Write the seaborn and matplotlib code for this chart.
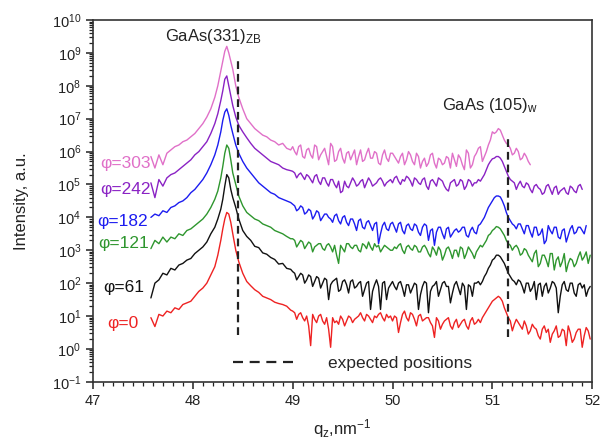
import numpy as np
import pandas as pd
import matplotlib
matplotlib.use("Agg")
import matplotlib.pyplot as plt
from matplotlib.lines import Line2D
from matplotlib.ticker import LogLocator, MultipleLocator, NullFormatter
import seaborn as sns

sns.set_style("ticks")
plt.rcParams["font.family"] = ["Liberation Sans", "DejaVu Sans"]
plt.rcParams["mathtext.fontset"] = "custom"
plt.rcParams["mathtext.rm"] = "Liberation Sans"
plt.rcParams["mathtext.it"] = "Liberation Sans:italic"
plt.rcParams["mathtext.bf"] = "Liberation Sans:bold"

# ---- scan positions q_z (nm^-1) ----
q_left = [47.58, 47.62, 47.66, 47.70, 47.74, 47.78, 47.82, 47.86, 47.90, 47.94,
          47.98, 48.02, 48.06, 48.10, 48.14, 48.18]
q_core = [48.22, 48.25, 48.28, 48.30, 48.32, 48.34, 48.36, 48.38, 48.40, 48.43,
          48.46, 48.50, 48.54]
q_tail = [48.58, 48.62, 48.66, 48.70, 48.74, 48.78, 48.82, 48.86, 48.90, 48.94, 48.98,
          49.02, 49.06, 49.10, 49.14, 49.18, 49.22, 49.26, 49.30, 49.34, 49.38,
          49.42, 49.46, 49.50, 49.54, 49.58, 49.62, 49.66, 49.70, 49.74, 49.78,
          49.82, 49.86, 49.90, 49.94, 49.98,
          50.02, 50.06, 50.10, 50.14, 50.18, 50.22, 50.26, 50.30, 50.34, 50.38,
          50.42, 50.46, 50.50, 50.54, 50.58, 50.62, 50.66, 50.70, 50.74, 50.78,
          50.82, 50.86, 50.90, 50.94, 50.98,
          51.02, 51.06, 51.10, 51.14, 51.18, 51.22, 51.26, 51.30, 51.34, 51.38,
          51.42, 51.46, 51.50, 51.54, 51.58, 51.62, 51.66, 51.70, 51.74, 51.78,
          51.82, 51.86, 51.90, 51.94, 51.98]
# interleaved positions in the background region
q_mid = [49.00, 49.04, 49.08, 49.12, 49.16, 49.20, 49.24, 49.28, 49.32, 49.36,
         49.40, 49.44, 49.48, 49.52, 49.56, 49.60, 49.64, 49.68, 49.72, 49.76,
         49.80, 49.84, 49.88, 49.92, 49.96,
         50.00, 50.04, 50.08, 50.12, 50.16, 50.20, 50.24, 50.28, 50.32, 50.36,
         50.40, 50.44, 50.48, 50.52, 50.56, 50.60, 50.64, 50.68, 50.72, 50.76,
         50.80, 50.84, 50.88, 50.92, 50.96,
         51.00, 51.04, 51.08, 51.12, 51.16, 51.20, 51.24, 51.28, 51.32, 51.36,
         51.40, 51.44, 51.48, 51.52, 51.56, 51.60, 51.64, 51.68, 51.72, 51.76,
         51.80, 51.84, 51.88, 51.92, 51.96]

# ---- log10(intensity) for each azimuth phi ----
logI_phi0 = [0.95, 0.68, 1.05, 1.0, 1.15, 1.1, 1.25, 1.2, 1.35, 1.4, 1.45, 1.6, 1.75, 1.85, 2.0, 2.25,
             2.5, 2.85, 3.3, 3.65, 3.95, 4.15, 4.1, 3.85, 3.5, 3.0, 2.65, 2.3, 2.05,
             1.92, 1.8, 1.72, 1.6, 1.55, 1.5, 1.42, 1.38, 1.35, 1.3, 1.18,
             1.1, 1.05, 0.95, 1.0, 0.1, 0.9, 1.0, 0.85, 0.95, 0.05, 0.8, 0.75, 0.9, 0.85, 0.95,
             0.9, 1.0, 0.95, 1.05, 0.9, 1.0, 1.05, 0.95, 1.05, 1.0,
             1.0, 0.5, 1.05, 0.95, 1.1, 0.9, 1.0, 0.85, 0.95, 0.8, 0.35, 0.85, 0.75, 0.9, 0.7,
             0.8, 0.65, 0.85, 0.7, 0.85, 0.75, 0.9, 0.95, 1.15, 1.35,
             1.5, 1.6, 1.45, 1.1, 0.85, 0.75, 0.8, 0.6, 0.7, 0.55, 0.65, 0.4, 0.6, 0.5, 0.2,
             0.55, 0.35, 0.6, 0.1, 0.5, 0.3, 0.6, 0.05, 0.65, 0.3]
logI_phi0_mid = [1.15, 0.9, 1.1, 0.85, 0.7, 1.05, 0.8, 1.05, 0.75, 0.6, 0.95, 0.85, 1.0, 0.7, 1.0,
                 0.8, 0.95, 1.1, 0.85, 1.0, 0.8, 0.95, 1.1, 0.85, 0.95,
                 0.85, 0.95, 0.8, 1.15, 0.85, 1.05, 0.7, 1.05, 0.9, 0.95, 0.7, 0.95, 0.6, 0.85, 0.95,
                 0.6, 0.9, 0.75, 0.9, 0.6, 0.95, 0.8, 0.8, 1.05, 1.25,
                 1.45, 1.55, 1.55, 1.25, 0.95, 0.55, 0.9, 0.7, 0.85, 0.45, 0.75, 0.6, 0.3, 0.7, 0.6,
                 0.45, 0.7, 0.4, 0.55, 0.7, 0.2, 0.5, 0.6, 0.4, 0.55]

logI_phi61 = [1.55, 2.0, 2.1, 2.3, 2.25, 2.45, 2.4, 2.55, 2.6, 2.7, 2.75, 2.9, 3.0, 3.1, 3.25, 3.5,
              3.7, 3.95, 4.25, 4.55, 4.95, 5.3, 5.2, 4.85, 4.6, 4.3, 3.95, 3.6, 3.42,
              3.3, 3.12, 3.08, 2.92, 2.88, 2.78, 2.72, 2.58, 2.6, 2.45, 2.42,
              2.3, 2.2, 2.25, 2.1, 2.2, 2.05, 2.15, 2.0, 2.1, 1.95, 2.1, 1.75, 2.05, 1.95, 2.05,
              1.85, 2.0, 1.6, 2.0, 1.2, 1.95, 1.9, 2.0, 1.5, 1.95,
              1.9, 2.0, 1.85, 1.95, 1.7, 2.0, 1.2, 1.9, 2.0, 1.75, 1.95, 1.6, 2.0, 1.9, 1.4,
              1.95, 1.85, 2.0, 1.2, 1.9, 2.0, 2.05, 2.05, 2.3, 2.55,
              2.75, 2.85, 2.7, 2.45, 2.2, 2.05, 2.1, 1.9, 2.0, 1.75, 2.05, 1.95, 1.6, 2.0, 1.85,
              2.0, 1.1, 1.95, 1.8, 2.0, 1.7, 1.95, 1.85, 1.6, 1.9]
logI_phi61_mid = [2.35, 2.1, 2.3, 2.0, 2.25, 1.9, 2.2, 1.85, 2.15, 1.5, 2.05, 2.15, 1.8, 2.1, 1.7,
                  2.1, 1.9, 2.05, 1.8, 2.05, 1.75, 2.1, 1.2, 2.05, 1.85,
                  2.05, 1.8, 2.05, 1.6, 1.95, 1.85, 1.95, 1.65, 2.05, 1.1, 1.9, 2.05, 1.8, 2.05, 1.9,
                  1.7, 2.05, 1.65, 1.9, 1.95, 1.6, 2.0, 1.95, 2.2, 2.45,
                  2.7, 2.85, 2.8, 2.6, 2.3, 2.1, 1.95, 2.05, 1.7, 2.0, 1.85, 1.5, 2.0, 1.9, 1.7,
                  2.05, 1.85, 1.6, 2.05, 1.75, 2.0, 1.6, 2.0, 1.95, 1.8]

logI_phi121 = [3.05, 3.3, 3.2, 3.4, 3.25, 3.4, 3.35, 3.5, 3.45, 3.6, 3.65, 3.75, 3.85, 3.95, 4.1, 4.3,
               4.55, 4.8, 5.2, 5.55, 5.95, 6.2, 6.1, 5.75, 5.35, 5.0, 4.65, 4.35, 4.15,
               4.05, 3.95, 3.9, 3.8, 3.75, 3.7, 3.6, 3.55, 3.5, 3.42, 3.35,
               3.3, 3.2, 3.25, 3.15, 3.2, 3.1, 3.2, 3.05, 3.15, 3.1, 3.15, 2.6, 3.05, 3.2, 3.1,
               3.15, 3.0, 3.2, 3.05, 3.1, 3.2, 3.15, 3.05, 3.1, 3.0,
               3.1, 3.15, 3.0, 3.1, 3.05, 3.15, 2.95, 3.1, 3.05, 2.8, 3.0, 3.1, 2.7, 3.05, 2.95,
               3.0, 2.8, 3.05, 2.9, 3.0, 2.75, 3.05, 3.1, 3.3, 3.5,
               3.65, 3.7, 3.55, 3.3, 3.15, 3.1, 3.05, 2.9, 3.0, 2.75, 2.9, 2.5, 2.85, 2.7, 2.9,
               2.4, 2.8, 2.65, 2.35, 2.75, 2.5, 2.8, 2.7, 2.95, 2.85]
logI_phi121_mid = [3.35, 3.1, 3.3, 3.05, 3.25, 2.95, 3.15, 3.2, 3.0, 3.2, 2.95, 2.85, 3.15, 2.95, 3.2,
                   3.05, 3.15, 2.95, 3.15, 3.25, 3.0, 3.1, 2.95, 3.15, 3.05,
                   3.0, 3.05, 3.2, 2.9, 3.15, 3.0, 3.1, 2.95, 3.15, 2.9, 3.1, 2.85, 3.0, 2.85, 3.1,
                   2.75, 3.0, 3.1, 2.75, 3.1, 2.9, 2.95, 3.15, 3.2, 3.45,
                   3.6, 3.72, 3.65, 3.45, 3.2, 3.0, 3.15, 2.85, 3.05, 2.85, 2.65, 3.0, 2.6, 2.85, 2.5,
                   2.9, 2.7, 2.5, 2.9, 2.6, 2.7, 2.6, 2.95, 2.8, 2.6]

logI_phi182 = [4.0, 4.1, 4.05, 4.2, 4.15, 4.3, 4.35, 4.45, 4.5, 4.6, 4.75, 4.85, 5.0, 5.15, 5.35, 5.6,
               5.9, 6.2, 6.6, 6.95, 7.2, 7.3, 7.1, 6.8, 6.55, 6.2, 5.95, 5.7, 5.5,
               5.35, 5.2, 5.05, 4.95, 4.85, 4.75, 4.7, 4.6, 4.55, 4.5, 4.45,
               4.35, 4.25, 4.3, 4.15, 4.2, 4.05, 4.15, 4.0, 4.1, 3.95, 4.05, 3.9, 4.0, 3.85, 3.95,
               3.8, 3.9, 3.7, 3.85, 3.75, 3.8, 3.2, 3.75, 3.65, 3.8,
               3.7, 3.8, 3.6, 3.75, 3.65, 3.8, 3.55, 3.7, 3.75, 3.6, 3.15, 3.7, 3.5, 3.65, 3.4,
               3.6, 3.55, 3.7, 3.45, 3.6, 3.55, 3.75, 3.9, 4.15, 4.4,
               4.6, 4.65, 4.5, 4.15, 3.9, 3.75, 3.8, 3.65, 3.75, 3.55, 3.7, 3.45, 3.65, 3.3, 3.6,
               3.7, 3.4, 3.6, 3.25, 3.65, 3.5, 3.7, 3.6, 3.75]
logI_phi182_mid = [4.4, 4.2, 4.35, 4.1, 4.25, 3.95, 4.2, 3.9, 4.1, 4.0, 3.85, 4.1, 3.8, 4.05, 3.75,
                   3.95, 3.6, 3.95, 3.65, 3.9, 3.6, 3.85, 3.5, 3.85, 3.6,
                   3.85, 3.55, 3.85, 3.5, 3.8, 3.6, 3.75, 3.45, 3.8, 3.3, 3.65, 3.55, 3.7, 3.35, 3.7,
                   3.5, 3.65, 3.6, 3.7, 3.4, 3.7, 3.5, 3.8, 4.0, 4.3,
                   4.5, 4.65, 4.62, 4.35, 4.0, 3.8, 3.65, 3.8, 3.5, 3.75, 3.4, 3.7, 3.5, 3.2, 3.75,
                   3.5, 3.7, 3.35, 3.65, 3.45, 3.75, 3.55, 3.7, 3.5]

logI_phi242 = [5.05, 4.6, 5.15, 4.95, 5.2, 5.3, 5.35, 5.45, 5.55, 5.65, 5.75, 5.9, 6.0, 6.15, 6.3, 6.55,
               6.85, 7.15, 7.55, 7.85, 8.2, 8.3, 8.0, 7.7, 7.4, 7.05, 6.8, 6.6, 6.42,
               6.25, 6.1, 6.0, 5.9, 5.8, 5.7, 5.65, 5.6, 5.5, 5.45, 5.42,
               5.35, 5.3, 5.25, 5.3, 5.15, 5.25, 5.1, 5.2, 5.05, 5.15, 5.0, 5.1, 4.8, 4.95, 5.05,
               5.1, 5.0, 5.15, 5.05, 5.1, 5.0, 5.15, 5.1, 5.05, 5.15,
               5.2, 5.1, 5.15, 5.25, 5.1, 5.2, 5.05, 5.15, 4.95, 5.1, 5.05, 5.2, 5.1, 4.85, 5.05,
               5.15, 5.0, 5.1, 4.95, 5.1, 5.05, 5.15, 5.2, 5.45, 5.7,
               5.8, 5.85, 5.7, 5.4, 5.15, 5.05, 5.0, 4.95, 5.05, 4.85, 4.95, 4.9, 4.7, 4.95, 4.85,
               4.9, 4.7, 4.85, 4.75, 4.95, 4.8, 4.95, 4.85]
logI_phi242_mid = [5.4, 5.2, 5.35, 5.15, 5.25, 5.05, 5.3, 5.0, 5.2, 4.95, 5.15, 4.9, 4.75, 5.1, 4.9,
                   5.2, 4.95, 5.1, 4.9, 5.2, 4.95, 5.05, 5.2, 4.95, 5.1,
                   5.05, 5.25, 5.0, 5.1, 5.2, 4.95, 5.15, 5.0, 5.2, 4.85, 5.15, 4.95, 5.15, 4.95, 4.8,
                   5.1, 4.95, 5.15, 4.85, 5.15, 4.95, 5.05, 5.1, 5.3, 5.6,
                   5.78, 5.85, 5.8, 5.55, 5.25, 5.1, 4.85, 5.1, 4.9, 5.0, 4.75, 5.0, 4.85, 4.75, 5.0,
                   4.7, 4.95, 4.8, 4.9, 4.7, 4.9, 4.75, 5.0]

logI_phi303 = [5.85, 5.5, 5.9, 5.6, 5.95, 6.05, 6.15, 6.2, 6.3, 6.35, 6.45, 6.55, 6.7, 6.85, 7.05, 7.3,
               7.65, 8.0, 8.45, 8.75, 9.05, 9.2, 9.0, 8.75, 8.5, 8.0, 7.65, 7.3, 7.0,
               6.85, 6.7, 6.6, 6.5, 6.45, 6.35, 6.3, 6.2, 6.25, 6.1, 6.05,
               6.0, 6.15, 5.85, 6.05, 5.9, 6.2, 5.75, 6.0, 5.85, 6.25, 5.7, 6.0, 5.8, 5.95, 5.75,
               6.05, 5.85, 5.7, 5.95, 5.8, 6.0, 5.65, 5.9, 5.8, 5.95,
               5.85, 5.65, 5.95, 5.75, 5.9, 5.6, 5.85, 5.7, 5.55, 5.9, 5.65, 5.8, 5.6, 5.85, 5.5,
               5.75, 5.9, 5.6, 6.05, 5.5, 5.85, 6.1, 5.7, 6.0, 6.35,
               6.55, 6.7, 6.5, 6.25, 6.1, 5.95, 6.0, 5.8, 5.85, 5.6]
logI_phi303_mid = [6.15, 5.9, 6.2, 5.8, 6.1, 5.8, 6.15, 5.9, 6.1, 5.6, 6.15, 5.75, 6.1, 5.65, 6.0,
                   5.9, 5.6, 6.05, 5.75, 6.1, 5.8, 5.95, 5.6, 6.05, 5.7,
                   5.95, 5.75, 5.85, 5.6, 6.0, 5.7, 5.95, 5.5, 5.8, 5.65, 5.95, 5.5, 5.75, 5.65, 5.8,
                   5.95, 5.55, 5.8, 5.45, 5.95, 5.6, 5.95, 6.15, 5.85, 6.2,
                   6.6, 6.6, 6.65, 6.35, 6.2, 5.9, 6.1, 5.75, 5.95, 5.7]

phi_values = [0, 61, 121, 182, 242, 303]
phi_labels = ["φ=0", "φ=61", "φ=121", "φ=182", "φ=242", "φ=303"]
phi_colors = ["#ee2222", "#111111", "#2e962e", "#1c1cf0", "#8a22c4", "#e070c8"]

# expected peak positions: GaAs(331) zinc-blende and GaAs(105) wurtzite
expected_q = [48.45, 51.16]
expected_low = [10 ** 0.43, 10 ** 0.37]
expected_high = [10 ** 8.77, 10 ** 6.5]

# ---- assemble long-format table ----
q_scan = q_left + q_core + q_tail
scans = [logI_phi0, logI_phi61, logI_phi121, logI_phi182, logI_phi242, logI_phi303]
scans_mid = [logI_phi0_mid, logI_phi61_mid, logI_phi121_mid, logI_phi182_mid,
             logI_phi242_mid, logI_phi303_mid]
frames = []
for phi, vals, mids in zip(phi_values, scans, scans_mid):
    q_all = q_scan[:len(vals)] + q_mid[:len(mids)]
    v_all = list(vals) + list(mids)
    frames.append(pd.DataFrame({"q": q_all,
                                "intensity": np.power(10.0, v_all),
                                "phi": phi}))
df = pd.concat(frames, ignore_index=True)

fig, ax = plt.subplots(figsize=(6.0, 4.45), dpi=100)
fig.subplots_adjust(left=0.155, right=0.987, top=0.955, bottom=0.142)

sns.lineplot(data=df, x="q", y="intensity", hue="phi",
             palette=dict(zip(phi_values, phi_colors)),
             estimator=None, sort=True, legend=False, lw=1.0, ax=ax)

ax.set_yscale("log")
ax.set_xlim(47, 52)
ax.set_ylim(1e-1, 1e10)

ax.vlines(expected_q, expected_low, expected_high, colors="#222222",
          linestyles=(0, (3.5, 2.2)), lw=1.6)

# azimuth labels
label_q = [47.14, 47.10, 47.05, 47.04, 47.07, 47.07]
label_log = [0.64, 1.73, 3.08, 3.74, 4.71, 5.49]
for txt, col, xq, yl in zip(phi_labels, phi_colors, label_q, label_log):
    ax.text(xq, 10 ** yl, txt, color=col, fontsize=12.5, ha="left", va="baseline")

ax.text(47.72, 10 ** 9.35, r"GaAs(331)$_{\mathregular{ZB}}$", fontsize=12,
        ha="left", va="baseline", color="#222222")
ax.text(50.50, 10 ** 7.27, r"GaAs (105)$_{\mathregular{w}}$", fontsize=12,
        ha="left", va="baseline", color="#222222")

handle = Line2D([], [], color="#222222", lw=1.6, linestyle=(0, (4.5, 3.0)))
ax.legend([handle], ["expected positions"], loc="center left",
          bbox_to_anchor=(0.28, 0.05), frameon=False, fontsize=12.5,
          handlelength=3.6, handletextpad=1.9, borderpad=0, borderaxespad=0)

# ticks
ax.xaxis.set_major_locator(MultipleLocator(1))
ax.xaxis.set_minor_locator(MultipleLocator(0.1))
ax.yaxis.set_major_locator(LogLocator(base=10, numticks=30))
ax.yaxis.set_minor_locator(LogLocator(base=10, subs=np.arange(2, 10), numticks=200))
ax.yaxis.set_minor_formatter(NullFormatter())
ax.tick_params(axis="both", which="major", direction="out", length=5, width=1.1,
               labelsize=10.5, color="#222222", labelcolor="#222222")
ax.tick_params(axis="both", which="minor", direction="out", length=3, width=0.9,
               color="#222222")
ax.tick_params(top=False, right=False, which="both")

for s in ax.spines.values():
    s.set_linewidth(1.2)
    s.set_color("#333333")

ax.set_xlabel(r"q$_{\mathregular{z}}$,nm$^{\mathregular{-1}}$", fontsize=12,
              labelpad=7, color="#222222")
ax.set_ylabel("Intensity, a.u.", fontsize=12, labelpad=16, color="#222222")

fig.savefig("out.png", dpi=100)
